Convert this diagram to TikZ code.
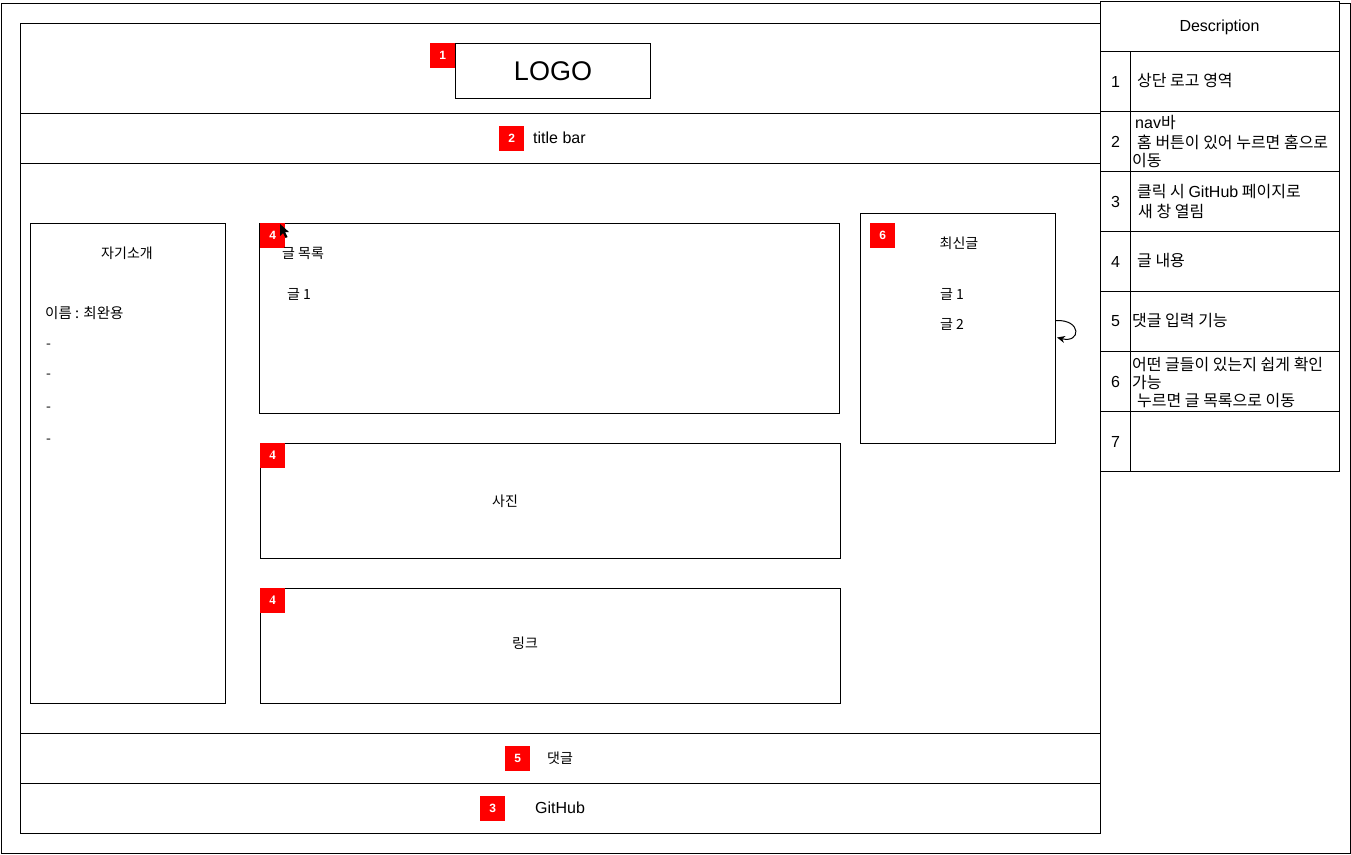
\documentclass[tikz,border=0pt]{standalone}
\usepackage{fontspec}
\setmainfont{Liberation Sans}
\newfontfamily\kr{Noto Sans CJK KR}
\newfontfamily\lat{Liberation Sans}
\newfontfamily\serb{Liberation Serif}
\usetikzlibrary{arrows.meta}
\begin{document}
\begin{tikzpicture}[x=1pt,y=-1pt,
  box/.style={draw=black,line width=1pt,fill=white,inner sep=0pt,anchor=north west},
  badge/.style={fill=red,text=white,font=\fontsize{12}{12}\selectfont\bfseries,minimum size=25pt,inner sep=0pt,anchor=north west},
  badgeser/.style={badge,font=\fontsize{13}{13}\serb\bfseries},
  lbl/.style={inner sep=0pt,font=\fontsize{16}{18}\selectfont},
  krl/.style={inner sep=0pt,font=\fontsize{14}{18}\kr},
  kml/.style={inner sep=0pt,anchor=west,font=\fontsize{14}{18}\kr},
  kdl/.style={inner sep=0pt,anchor=west,font=\fontsize{16}{19}\kr},
  num/.style={inner sep=0pt,font=\fontsize{16}{18}\selectfont}
]
\useasboundingbox (0,0) rectangle (1351,854);
\fill[white] (0,0) rectangle (1351,854);

% outer frame
\node[box,minimum width=1349pt,minimum height=850pt] (outer) at (1,3) {};
% inner frame rows
\node[box,minimum width=1080pt,minimum height=90pt] (logorow) at (20,23) {};
\node[box,minimum width=1080pt,minimum height=50pt] (titlerow) at (20,113) {};
\node[box,minimum width=1080pt,minimum height=570pt] (content) at (20,163) {};
\node[box,minimum width=1080pt,minimum height=50pt] (commentrow) at (20,733) {};
\node[box,minimum width=1080pt,minimum height=50pt] (githubrow) at (20,783) {};

% logo
\node[box,minimum width=195pt,minimum height=55pt] (logo) at (455,43) {};
\node[inner sep=0pt,font=\fontsize{27}{30}\selectfont] (logotxt) at (logo.center) {LOGO};
\node[badge] (b1) at (430,43) {1};

% title bar
\node[badge] (b2) at (499,126) {2};
\node[lbl,anchor=west] (titletxt) at (533,138) {title bar};

% left panel
\node[box,minimum width=195pt,minimum height=480pt] (intro) at (30,223) {};
\node[krl] (introtitle) at (127,253) {자기소개};
\node[kml,font=\fontsize{14.5}{18}\kr] (name) at (45,313) {이름 : 최완용};
\node[kml] (d1) at (46,346) {-};
\node[kml] (d2) at (46,376) {-};
\node[kml] (d3) at (46,409) {-};
\node[kml] (d4) at (46,441) {-};

% post list
\node[box,minimum width=580pt,minimum height=190pt] (posts) at (259,223) {};
\node[badge] (b4a) at (260,223) {4};
\node[kml] (poststitle) at (282,253) {글 목록};
\node[kml] (post1) at (287,294) {글 1};
% cursor
\fill[black] (280,224) -- (280,236) -- (283,233) -- (285.5,238) -- (287.5,237) -- (285,232) -- (289,232) -- cycle;

% photo
\node[box,minimum width=580pt,minimum height=115pt] (photo) at (260,443) {};
\node[badgeser] (b4b) at (260,443) {4};
\node[krl] (phototxt) at (505,501) {사진};

% link
\node[box,minimum width=580pt,minimum height=115pt] (link) at (260,588) {};
\node[badgeser] (b4c) at (260,588) {4};
\node[krl] (linktxt) at (525,643) {링크};

% recent
\node[box,minimum width=195pt,minimum height=230pt] (recent) at (860,213) {};
\node[badge] (b6) at (870,223) {6};
\node[krl] (recenttitle) at (959,243) {최신글};
\node[kml] (r1) at (940,294) {글 1};
\node[kml] (r2) at (940,324) {글 2};
\draw[line width=1pt,-{Stealth[length=8pt,width=7pt]}] ([yshift=8pt]recent.east) .. controls +(26pt,1pt) and +(24pt,-6pt) .. ([yshift=-9pt,xshift=1pt]recent.east);

% comment / github
\node[badge] (b5) at (505,746) {5};
\node[krl] (commenttxt) at (560,758) {댓글};
\node[badge] (b3) at (480,796) {3};
\node[lbl] (githubtxt) at (560,808) {GitHub};

% description table
\node[box,minimum width=239pt,minimum height=50pt] (dhead) at (1100,1) {};
\node[lbl] (dheadtxt) at (1219.5,27) {Description};
\foreach \i/\y in {1/51,2/111,3/171,4/231,5/291,6/351,7/411}{
  \node[box,minimum width=30pt,minimum height=60pt] (n\i) at (1100,\y) {};
  \node[box,minimum width=209pt,minimum height=60pt] (t\i) at (1130,\y) {};
  \node[num] (nt\i) at (n\i.center) {\i};
}
\node[kdl] (t1a) at (1137,81) {상단 로고 영역};
\node[kdl] (t2a) at (1135,123) {{\lat nav}바};
\node[kdl] (t2b) at (1137,142) {홈 버튼이 있어 누르면 홈으로};
\node[kdl] (t2c) at (1132,161) {이동};
\node[kdl] (t3a) at (1137,192) {클릭 시 {\lat GitHub} 페이지로};
\node[kdl] (t3b) at (1138,211) {새 창 열림};
\node[kdl] (t4a) at (1137,261) {글 내용};
\node[kdl] (t5a) at (1132,321) {댓글 입력 기능};
\node[kdl] (t6a) at (1132,364) {어떤 글들이 있는지 쉽게 확인};
\node[kdl] (t6b) at (1132,382) {가능};
\node[kdl] (t6c) at (1137,401) {누르면 글 목록으로 이동};
\end{tikzpicture}
\end{document}
